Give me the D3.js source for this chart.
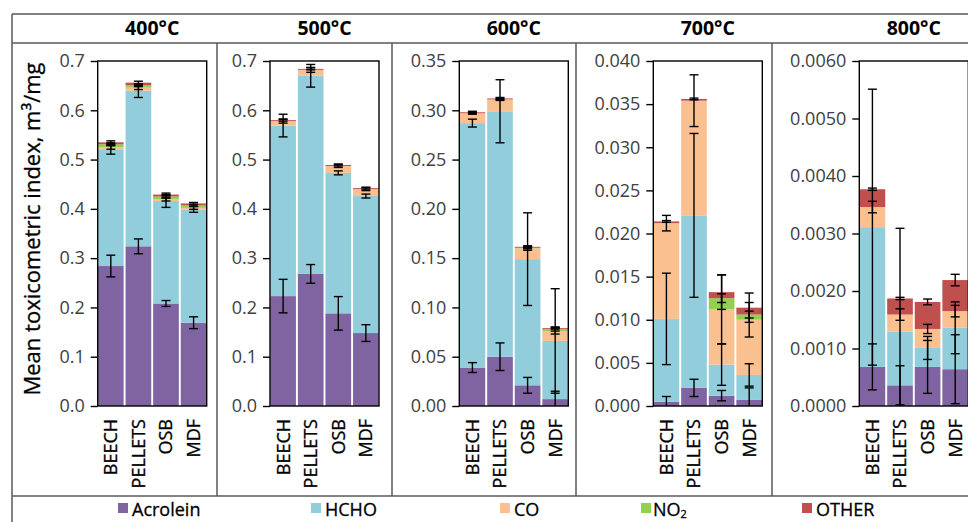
<!DOCTYPE html>
<html>
<head>
<meta charset="utf-8">
<script src="https://cdn.jsdelivr.net/npm/d3@7/dist/d3.min.js"></script>
<style>
  body { margin: 0; background: #fff; overflow: hidden; }
  text { font-family: "Open Sans", "Liberation Sans", sans-serif; }
</style>
</head>
<body>
<div id="chart"></div>
<script>
const materials = ["BEECH", "PELLETS", "OSB", "MDF"]
const species = ["Acrolein", "HCHO", "CO", "NO2", "OTHER"]
const temps = ["400°C", "500°C", "600°C", "700°C", "800°C"]

// rows: Acrolein, HCHO, CO, NO2, OTHER ; columns: BEECH, PELLETS, OSB, MDF
const val400 = [
  [0.284, 0.324, 0.208, 0.169],
  [0.237, 0.316, 0.208, 0.230],
  [0.004, 0.006, 0.003, 0.003],
  [0.006, 0.005, 0.006, 0.005],
  [0.004, 0.005, 0.004, 0.004]
]
const err400 = [
  [0.022, 0.015, 0.006, 0.012],
  [0.010, 0.014, 0.013, 0.006],
  [0.004, 0.004, 0.003, 0.003],
  [0.003, 0.003, 0.003, 0.002],
  [0.003, 0.003, 0.003, 0.002]
]
const val500 = [
  [0.223, 0.268, 0.188, 0.148],
  [0.346, 0.402, 0.285, 0.278],
  [0.009, 0.012, 0.014, 0.014],
  [0.000, 0.000, 0.000, 0.000],
  [0.002, 0.002, 0.002, 0.002]
]
const err500 = [
  [0.034, 0.019, 0.034, 0.017],
  [0.023, 0.023, 0.004, 0.004],
  [0.004, 0.005, 0.003, 0.003],
  [0.000, 0.000, 0.000, 0.000],
  [0.002, 0.002, 0.002, 0.002]
]
const val600 = [
  [0.039, 0.050, 0.021, 0.007],
  [0.248, 0.249, 0.128, 0.059],
  [0.010, 0.012, 0.011, 0.010],
  [0.000, 0.000, 0.0005, 0.002],
  [0.001, 0.001, 0.001, 0.001]
]
const err600 = [
  [0.005, 0.014, 0.008, 0.008],
  [0.004, 0.032, 0.047, 0.053],
  [0.001, 0.001, 0.002, 0.003],
  [0.000, 0.000, 0.001, 0.002],
  [0.001, 0.001, 0.001, 0.001]
]
const val700 = [
  [0.0005, 0.0021, 0.0012, 0.0007],
  [0.0096, 0.0200, 0.0036, 0.0029],
  [0.0111, 0.0133, 0.0064, 0.0064],
  [0.0000, 0.0000, 0.0013, 0.0006],
  [0.0002, 0.0002, 0.0007, 0.0008]
]
const err700 = [
  [0.0006, 0.0010, 0.0006, 0.0014],
  [0.0053, 0.0095, 0.0024, 0.0013],
  [0.0009, 0.0030, 0.0040, 0.0020],
  [0.0000, 0.0000, 0.0005, 0.0004],
  [0.0001, 0.0001, 0.0020, 0.0017]
]
const val800 = [
  [0.00068, 0.00036, 0.00068, 0.00064],
  [0.00243, 0.00093, 0.00033, 0.00072],
  [0.00035, 0.00030, 0.00033, 0.00029],
  [0.00000, 0.00000, 0.00000, 0.00000],
  [0.00031, 0.00028, 0.00047, 0.00054]
]
const err800 = [
  [0.00040, 0.00034, 0.00046, 0.00060],
  [0.00240, 0.00180, 0.00020, 0.00045],
  [0.00010, 0.00010, 0.00008, 0.00010],
  [0.00000, 0.00000, 0.00000, 0.00000],
  [0.00002, 0.00002, 0.00005, 0.00010]
]

const ticks400 = [0, 0.1, 0.2, 0.3, 0.4, 0.5, 0.6, 0.7]
const ticks500 = [0, 0.1, 0.2, 0.3, 0.4, 0.5, 0.6, 0.7]
const ticks600 = [0, 0.05, 0.10, 0.15, 0.20, 0.25, 0.30, 0.35]
const ticks700 = [0, 0.005, 0.010, 0.015, 0.020, 0.025, 0.030, 0.035, 0.040]
const ticks800 = [0, 0.001, 0.002, 0.003, 0.004, 0.005, 0.006]

const colors = ["#8064A2", "#92CDDC", "#FAC090", "#92D050", "#C0504D"]

const panels = [
  {title: temps[0], vals: val400, errs: err400, ticks: ticks400, fmt: ".1f"},
  {title: temps[1], vals: val500, errs: err500, ticks: ticks500, fmt: ".1f"},
  {title: temps[2], vals: val600, errs: err600, ticks: ticks600, fmt: ".2f"},
  {title: temps[3], vals: val700, errs: err700, ticks: ticks700, fmt: ".3f"},
  {title: temps[4], vals: val800, errs: err800, ticks: ticks800, fmt: ".4f"}
]

// layout
const W = 968, H = 522
const plotLeft = [97.7, 270, 459.3, 653.3, 859.3]
const plotW = 109
const TOP = 61, BOTTOM = 406
const frameColor = "#595959"

const svg = d3.select("#chart").append("svg")
  .attr("width", W)
  .attr("height", H)

// outer table lines
const frame = svg.append("g").attr("stroke", frameColor).attr("stroke-width", 1.5)
frame.append("line").attr("x1", 12).attr("x2", W + 5).attr("y1", 14).attr("y2", 14)
frame.append("line").attr("x1", 12).attr("x2", W + 5).attr("y1", 43).attr("y2", 43)
frame.append("line").attr("x1", 12).attr("x2", W + 5).attr("y1", 496).attr("y2", 496)
frame.append("line").attr("x1", 12).attr("x2", 12).attr("y1", 14).attr("y2", H + 5)
;[217, 392, 576, 772].forEach(xx => {
  frame.append("line").attr("x1", xx).attr("x2", xx).attr("y1", 43).attr("y2", 496)
})

panels.forEach((p, i) => {
  const x0 = plotLeft[i]
  const ymax = p.ticks[p.ticks.length - 1]

  const y = d3.scaleLinear()
    .domain([0, ymax])
    .range([BOTTOM, TOP])

  const x = d3.scaleBand()
    .domain(materials)
    .range([x0, x0 + plotW])
    .paddingInner(0.07)
    .paddingOuter(0.01)

  const g = svg.append("g").attr("class", "panel")

  const rows = materials.map((m, j) => {
    const r = {name: m}
    species.forEach((s, k) => r[s] = p.vals[k][j])
    return r
  })
  const stacked = d3.stack().keys(species)(rows)

  g.selectAll("g.layer")
    .data(stacked)
    .join("g")
    .attr("class", "layer")
    .attr("fill", (d, k) => colors[k])
    .selectAll("rect")
    .data(d => d)
    .join("rect")
    .attr("x", d => x(d.data.name))
    .attr("width", x.bandwidth())
    .attr("y", d => y(d[1]))
    .attr("height", d => Math.max(0, y(d[0]) - y(d[1])))

  // error bars at each cumulative top
  const errs = []
  stacked.forEach((layer, k) => {
    layer.forEach((d, j) => {
      const e = p.errs[k][j]
      if (e > 0) errs.push({name: d.data.name, v: d[1], e: e})
    })
  })
  const capW = 4.5
  const eb = g.append("g").attr("stroke", "#000").attr("stroke-width", 1.4)
  errs.forEach(d => {
    const cx = x(d.name) + x.bandwidth() / 2
    const hi = Math.min(ymax, d.v + d.e)
    const lo = Math.max(0, d.v - d.e)
    eb.append("line").attr("x1", cx).attr("x2", cx).attr("y1", y(hi)).attr("y2", y(lo))
    if (d.v + d.e <= ymax)
      eb.append("line").attr("x1", cx - capW).attr("x2", cx + capW).attr("y1", y(d.v + d.e)).attr("y2", y(d.v + d.e))
    if (d.v - d.e >= 0)
      eb.append("line").attr("x1", cx - capW).attr("x2", cx + capW).attr("y1", y(d.v - d.e)).attr("y2", y(d.v - d.e))
  })

  // plot frame
  g.append("rect")
    .attr("x", x0).attr("y", TOP)
    .attr("width", plotW).attr("height", BOTTOM - TOP)
    .attr("fill", "none")
    .attr("stroke", "#000")
    .attr("stroke-width", 1.4)

  const yAxis = d3.axisLeft(y)
    .tickValues(p.ticks)
    .tickFormat(d3.format(p.fmt))
    .tickSize(7)
    .tickPadding(6)
  const ya = g.append("g")
    .attr("transform", "translate(" + x0 + ",0)")
    .call(yAxis)
  ya.select(".domain").remove()
  ya.selectAll(".tick line").attr("stroke", "#000").attr("stroke-width", 1.4)
  ya.selectAll(".tick text")
    .attr("fill", "#404040")
    .attr("font-size", "18px")
    .style("font-family", "'Open Sans', sans-serif")

  // category labels
  g.selectAll("text.cat")
    .data(materials)
    .join("text")
    .attr("class", "cat")
    .attr("transform", d => "translate(" + (x(d) + x.bandwidth() / 2) + ",419) rotate(-90)")
    .attr("text-anchor", "end")
    .attr("dy", "0.36em")
    .attr("font-size", "18px")
    .attr("fill", "#000")
    .attr("stroke", "#000")
    .attr("stroke-width", 0.3)
    .text(d => d)

  // panel title
  g.append("text")
    .attr("x", x0 + plotW / 2)
    .attr("y", 35)
    .attr("text-anchor", "middle")
    .attr("font-size", "19.5px")
    .attr("font-weight", "bold")
    .attr("fill", "#000")
    .text(p.title)
})

// y axis title
svg.append("text")
  .attr("transform", "translate(32,229) rotate(-90)")
  .attr("text-anchor", "middle")
  .attr("dy", "0.35em")
  .attr("font-size", "22px")
  .attr("fill", "#000")
  .attr("stroke", "#000")
  .attr("stroke-width", 0.3)
  .text("Mean toxicometric index, m³/mg")

// legend
const legendX = [118, 311, 500, 641, 802]
const leg = svg.append("g")
species.forEach((s, k) => {
  leg.append("rect")
    .attr("x", legendX[k]).attr("y", 503)
    .attr("width", 10).attr("height", 10)
    .attr("fill", colors[k])
  const t = leg.append("text")
    .attr("x", legendX[k] + (k === 3 ? 12 : 14))
    .attr("y", 516)
    .attr("font-size", "18px")
    .attr("fill", "#000")
    .attr("stroke", "#000")
    .attr("stroke-width", 0.3)
  if (s === "NO2") {
    t.append("tspan").text("NO")
    t.append("tspan").attr("dy", 2).attr("font-size", "11px").text("2")
  } else {
    t.text(s)
  }
})
</script>
</body>
</html>
